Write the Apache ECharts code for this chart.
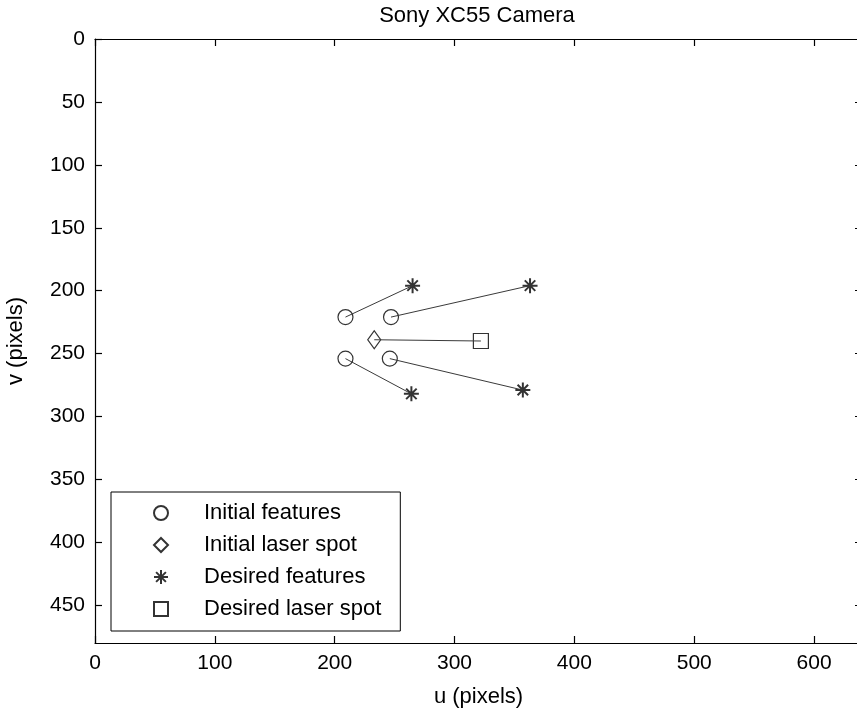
<!DOCTYPE html>
<html>
<head>
<meta charset="utf-8">
<script src="https://cdn.jsdelivr.net/npm/echarts@6/dist/echarts.min.js"></script>
<style>html,body{margin:0;padding:0;background:#fff}#c{width:857px;height:714px}</style>
</head>
<body>
<div id="c"></div>
<script>
// Data (image coordinates, pixels)
var initU = [209, 247, 209, 246];
var initV = [221, 221, 254, 254];
var desU = [265, 363, 264, 357];
var desV = [196, 196, 282, 279];
var laserInitUV = [233, 239];
var laserDesUV = [322, 240];
var xTicks = [0, 100, 200, 300, 400, 500, 600];
var yTicks = [0, 50, 100, 150, 200, 250, 300, 350, 400, 450];
var legendNames = ['Initial features', 'Initial laser spot', 'Desired features', 'Desired laser spot'];

var FONT = "'Liberation Sans', Arial, Helvetica, sans-serif";
var ASTERISK = 'path://M10,0L10,20M0,10L20,10M3,3L17,17M3,17L17,3';

var series = [];
// connecting lines
for (var i = 0; i < initU.length; i++) {
  series.push({
    type: 'line', silent: true, symbol: 'none',
    data: [[initU[i], initV[i]], [desU[i], desV[i]]],
    lineStyle: {color: '#3a3a3a', width: 1}
  });
}
series.push({
  type: 'line', silent: true, symbol: 'none',
  data: [laserInitUV, laserDesUV],
  lineStyle: {color: '#3a3a3a', width: 1}
});
var mk = function (u, v) { return u.map(function (x, k) { return [x, v[k]]; }); };
series.push({
  name: legendNames[0], type: 'scatter', symbol: 'circle', symbolSize: 15,
  data: mk(initU, initV),
  itemStyle: {color: 'rgba(0,0,0,0)', borderColor: '#000', borderWidth: 1.2}
});
series.push({
  name: legendNames[1], type: 'scatter', symbol: 'diamond', symbolSize: [13, 18],
  data: [laserInitUV],
  itemStyle: {color: 'rgba(0,0,0,0)', borderColor: '#000', borderWidth: 1.2}
});
series.push({
  name: legendNames[2], type: 'scatter', symbol: ASTERISK, symbolSize: 15,
  data: mk(desU, desV),
  itemStyle: {color: '#000', borderColor: '#000', borderWidth: 2}
});
series.push({
  name: legendNames[3], type: 'scatter', symbol: 'rect', symbolSize: 15,
  data: [laserDesUV],
  itemStyle: {color: 'rgba(0,0,0,0)', borderColor: '#000', borderWidth: 1.2}
});

var tickFmtX = function (v) { return xTicks.indexOf(v) >= 0 ? String(v) : ''; };
var tickFmtY = function (v) { return yTicks.indexOf(v) >= 0 ? String(v) : ''; };
var lineBlack = {onZero: false, lineStyle: {color: '#000', width: 1.2}};
var tickIn = {inside: true, length: 7, lineStyle: {color: '#000', width: 1.2}};

var option = {
  backgroundColor: '#fff',
  animation: false,
  title: {
    text: 'Sony XC55 Camera', left: 472, top: 0, textAlign: 'center',
    textStyle: {fontFamily: FONT, fontSize: 22, fontWeight: 'normal', color: '#000'}
  },
  legend: {
    data: legendNames, orient: 'vertical', left: 111, top: 492,
    padding: [10, 19, 11, 42], itemGap: 10, itemWidth: 14, itemHeight: 14,
    backgroundColor: '#fff', borderColor: '#000', borderWidth: 1, borderRadius: 0,
    textStyle: {fontFamily: FONT, fontSize: 22, color: '#000', lineHeight: 22, padding: [0, 0, 0, 31]},
    selectedMode: false
  },
  grid: {left: 95, top: 39, width: 767, height: 604, containLabel: false, outerBoundsMode: 'none'},
  xAxis: [{
    type: 'value', min: 0, max: 640, interval: 100, position: 'bottom',
    name: 'u (pixels)', nameLocation: 'middle', nameGap: 43,
    nameTextStyle: {fontFamily: FONT, fontSize: 22, color: '#000'},
    axisLine: lineBlack, axisTick: tickIn,
    axisLabel: {formatter: tickFmtX, margin: 10, fontFamily: FONT, fontSize: 21, color: '#000', showMaxLabel: false},
    splitLine: {show: false}
  }, {
    type: 'value', min: 0, max: 640, interval: 100, position: 'top',
    axisLine: lineBlack, axisTick: tickIn,
    axisLabel: {show: false}, splitLine: {show: false}
  }],
  yAxis: [{
    type: 'value', min: 0, max: 480, interval: 50, inverse: true, position: 'left',
    name: 'v (pixels)', nameLocation: 'middle', nameGap: 68, nameRotate: 90,
    nameTextStyle: {fontFamily: FONT, fontSize: 22, color: '#000'},
    axisLine: lineBlack, axisTick: tickIn,
    axisLabel: {formatter: tickFmtY, margin: 10, fontFamily: FONT, fontSize: 21, color: '#000', showMaxLabel: false},
    splitLine: {show: false}
  }, {
    type: 'value', min: 0, max: 480, interval: 50, inverse: true, position: 'right',
    axisLine: lineBlack, axisTick: tickIn,
    axisLabel: {show: false}, splitLine: {show: false}
  }],
  series: series
};
var chart = echarts.init(document.getElementById('c'), null, {renderer: 'canvas'});
chart.setOption(option);
</script>
</body>
</html>
